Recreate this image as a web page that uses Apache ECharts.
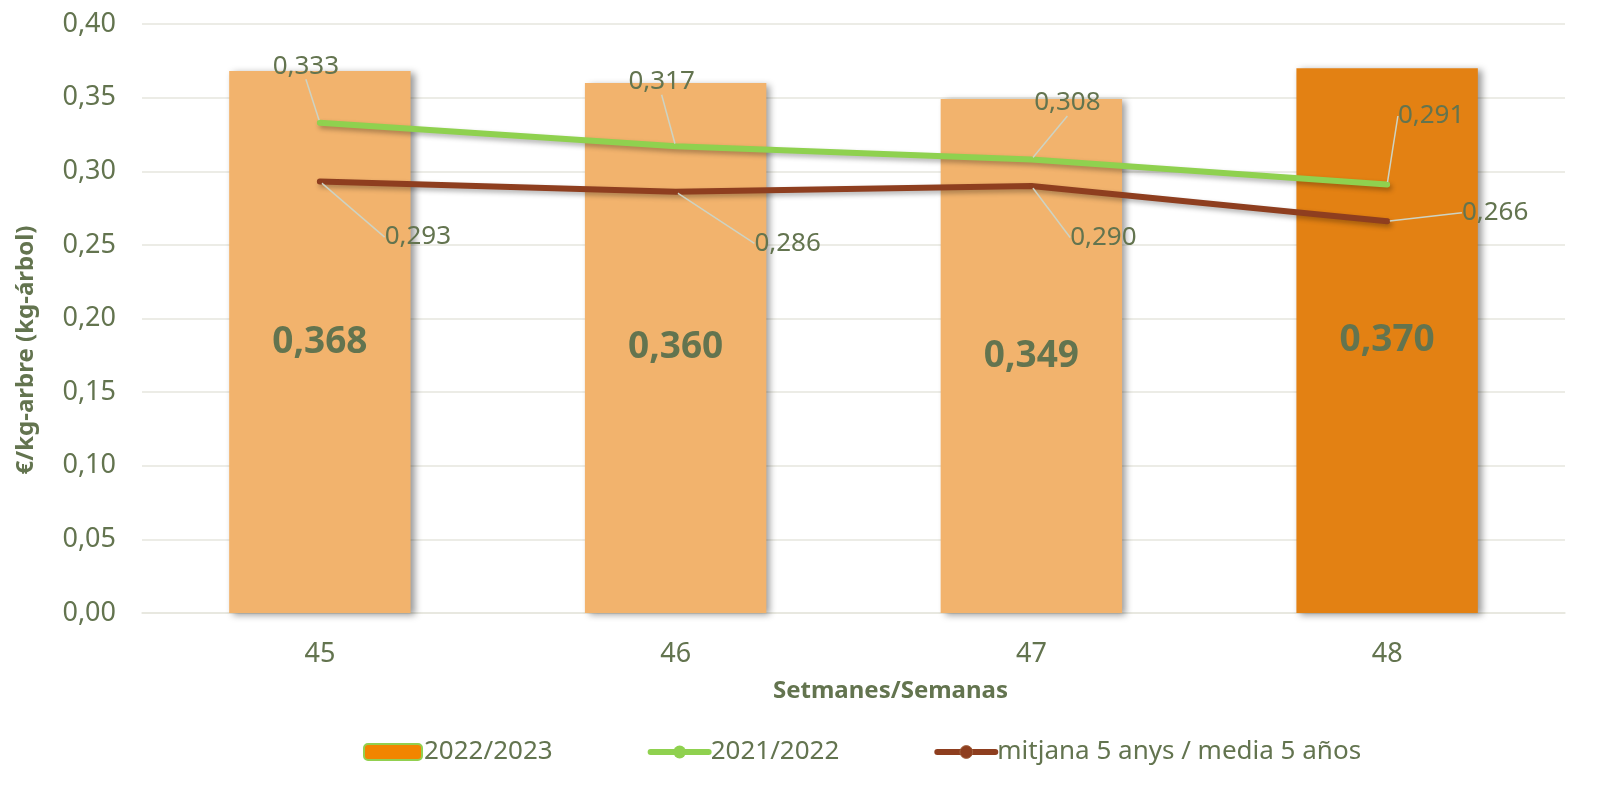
<!DOCTYPE html>
<html>
<head>
<meta charset="utf-8">
<script src="https://cdn.jsdelivr.net/npm/echarts@6/dist/echarts.min.js"></script>
<style>
html,body{margin:0;padding:0;background:#fff;}
#c{width:1604px;height:799px;}
</style>
</head>
<body>
<div id="c"></div>
<script>
const weeks = ['45', '46', '47', '48'];
const season2223 = [0.368, 0.360, 0.349, 0.370];
const season2122 = [0.333, 0.317, 0.308, 0.291];
const avg5y = [0.293, 0.286, 0.290, 0.266];
const seriesNames = ['2022/2023', '2021/2022', 'mitjana 5 anys / media 5 años'];
const yTicks = { min: 0, max: 0.4, interval: 0.05 };
const yTitle = '€/kg-arbre (kg-árbol)';
const xTitle = 'Setmanes/Semanas';

// label offsets (style only)
const greenOffsets = [[-14, -56], [-14, -64], [36, -56], [44, -68]];
const brownOffsets = [[98, 56], [112, 52], [72, 52], [108, -8]];

const TXT = '#63744F';
const FONT = 'Noto Sans';
const fmt = v => v.toFixed(3).replace('.', ',');
const shadow = { shadowColor: 'rgba(0,0,0,0.3)', shadowBlur: 5, shadowOffsetX: 2, shadowOffsetY: 3 };

const chart = echarts.init(document.getElementById('c'));
chart.setOption({
  animation: false,
  textStyle: { fontFamily: FONT, color: TXT },
  grid: { left: 142, right: 39, top: 24, bottom: 186 },
  graphic: [{
    type: 'text',
    x: 26, y: 350,
    rotation: Math.PI / 2,
    style: {
      text: yTitle, fill: TXT, font: 'bold 24px "Noto Sans"',
      align: 'center', verticalAlign: 'middle'
    }
  }],
  legend: {
    left: 358, top: 734,
    itemWidth: 58, itemHeight: 16, itemGap: 95,
    textStyle: { fontSize: 26, color: TXT, fontFamily: FONT, padding: [0, 0, 0, -3] },
    data: [
      { name: seriesNames[0], itemStyle: { color: '#F28500', borderColor: '#92D050', borderWidth: 2 } },
      { name: seriesNames[1], lineStyle: { width: 6, color: '#8FD14F' }, itemStyle: { color: '#8FD14F' } },
      { name: seriesNames[2], lineStyle: { width: 6, color: '#8E3E1F' }, itemStyle: { color: '#8E3E1F', borderColor: '#A0613F', borderWidth: 1 } }
    ]
  },
  xAxis: {
    type: 'category',
    data: weeks,
    name: xTitle,
    nameLocation: 'middle',
    nameGap: 66,
    nameTextStyle: { fontSize: 24, fontWeight: 'bold', color: TXT, padding: [0, 0, 0, 74] },
    axisLine: { show: true, lineStyle: { color: '#E6E6DE', width: 1.5 } },
    axisTick: { show: false },
    axisLabel: { fontSize: 27, color: TXT, margin: 28 }
  },
  yAxis: {
    type: 'value',
    min: yTicks.min, max: yTicks.max, interval: yTicks.interval,
    axisLine: { show: false },
    axisTick: { show: false },
    splitLine: { lineStyle: { color: '#E6E6DE', width: 1.5 } },
    axisLabel: { fontSize: 27, color: TXT, margin: 26, formatter: v => v.toFixed(2).replace('.', ',') }
  },
  series: [
    {
      name: seriesNames[0],
      type: 'bar',
      barWidth: '51%',
      data: season2223.map((v, i) => ({
        value: v,
        itemStyle: { color: i === season2223.length - 1 ? '#E38113' : '#F2B36D' }
      })),
      itemStyle: {
        color: '#E38113',
        shadowColor: 'rgba(0,0,0,0.4)', shadowBlur: 7, shadowOffsetX: 4, shadowOffsetY: 2
      },
      label: {
        show: true, position: 'inside',
        fontSize: 37, fontWeight: 'bold', color: TXT,
        formatter: p => fmt(p.value)
      },
      z: 1
    },
    {
      name: seriesNames[1],
      type: 'line',
      data: season2122,
      symbol: 'circle', symbolSize: 5,
      itemStyle: { color: '#8FD14F' },
      lineStyle: Object.assign({ color: '#8FD14F', width: 6, cap: 'round' }, shadow),
      label: { show: true, position: 'top', fontSize: 26, color: TXT, formatter: p => fmt(p.value) },
      labelLine: { show: true, lineStyle: { color: '#CDD3C4', width: 1.5 } },
      labelLayout: p => ({ dx: greenOffsets[p.dataIndex][0], dy: greenOffsets[p.dataIndex][1] + 20 }),
      z: 3
    },
    {
      name: seriesNames[2],
      type: 'line',
      data: avg5y,
      symbol: 'circle', symbolSize: 5,
      itemStyle: { color: '#8E3E1F' },
      lineStyle: Object.assign({ color: '#8E3E1F', width: 6, cap: 'round' }, shadow),
      label: { show: true, position: 'top', fontSize: 26, color: TXT, formatter: p => fmt(p.value) },
      labelLine: { show: true, lineStyle: { color: '#CDD3C4', width: 1.5 } },
      labelLayout: p => ({ dx: brownOffsets[p.dataIndex][0], dy: brownOffsets[p.dataIndex][1] + 20 }),
      z: 3
    }
  ]
});
</script>
</body>
</html>
